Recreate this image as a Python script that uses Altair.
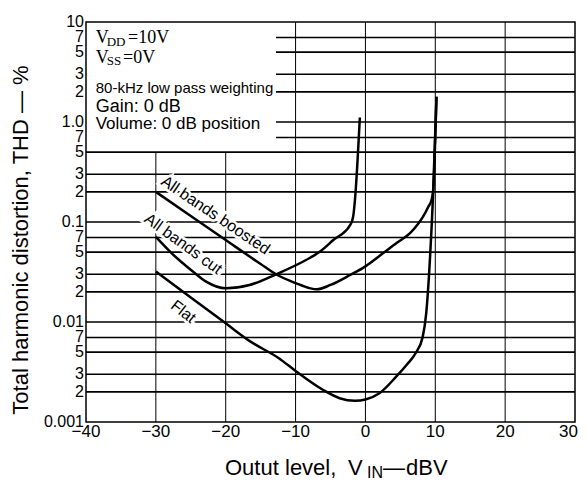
import altair as alt
import pandas as pd

# ---------------- data ----------------
boost_x = [-30, -25, -20, -15, -12.8, -10, -8, -7, -5, -2.2, 0, 2.5, 4.5, 6.35, 7.5, 8.25, 9.0, 9.5, 9.7, 10.17]
boost_y = [0.20, 0.115, 0.066, 0.038, 0.030, 0.0245, 0.0218, 0.0212, 0.0235, 0.0295, 0.036, 0.0486, 0.062,
           0.077, 0.095, 0.113, 0.142, 0.17, 0.21, 1.79]

cut_x = [-30, -27.5, -24.7, -22.8, -20, -16.6, -12.8, -8.5, -6.6, -4.6, -2.2, -1.76, -1.5, -0.8]
cut_y = [0.071, 0.047, 0.032, 0.0253, 0.0217, 0.0234, 0.030, 0.0417, 0.050, 0.066, 0.093, 0.113, 0.166, 1.11]

flat_x = [-30, -25, -20, -16.5, -12.3, -9.9, -6.1, -3.7, -1.5, 0, 2, 4.4, 6, 7.2, 8.2, 8.7, 9.2, 9.7, 10.17]
flat_y = [0.032, 0.0176, 0.0097, 0.0064, 0.0043, 0.0032, 0.0021, 0.00173, 0.00163, 0.00168, 0.00194, 0.00284,
          0.0038, 0.0049, 0.0071, 0.0122, 0.0386, 0.2, 1.79]

series_names = ["All bands boosted", "All bands cut", "Flat"]

y_tick_vals = [10, 7, 5, 3, 2, 1, 0.7, 0.5, 0.3, 0.2, 0.1, 0.07, 0.05, 0.03, 0.02, 0.01,
               0.007, 0.005, 0.003, 0.002, 0.001]
y_tick_text = ["10", "7", "5", "3", "2", "1.0", "7", "5", "3", "2", "0.1", "7", "5", "3", "2", "0.01",
               "7", "5", "3", "2", "0.001"]
x_tick_vals = [-40, -30, -20, -10, 0, 10, 20]
x_tick_text = ["\u221240", "\u221230", "\u221220", "\u221210", "0", "10", "20"]
x_last_val = 30
x_last_text = "30"

# grid lines (horizontal ones at/above 0.7 start right of the condition box)
hgrid_vals = [0.002, 0.003, 0.005, 0.007, 0.01, 0.02, 0.03, 0.05, 0.07, 0.1, 0.2, 0.3, 0.5,
              0.7, 1, 2, 3, 5, 7]
hgrid_start = [-40] * 13 + [-12.8] * 6
vgrid_vals = [-30, -20, -10, 0, 10, 20]
vgrid_top = [0.5, 0.5, 10, 10, 10, 10]

# curve label anchors (data space)
label_x = [-21.47, -26.08, -26.08]
label_y = [0.117, 0.0603, 0.01268]

# ---------------- build tables ----------------
rows = []
for name, xs, ys in zip(series_names, [boost_x, cut_x, flat_x], [boost_y, cut_y, flat_y]):
    for i, (a, b) in enumerate(zip(xs, ys)):
        rows.append({"series": name, "i": i, "x": a, "y": b})
curves = pd.DataFrame(rows)

hgrid = pd.DataFrame({"v": hgrid_vals, "x0": hgrid_start, "x1": [30] * len(hgrid_vals)})
vgrid = pd.DataFrame({"v": vgrid_vals, "y0": [0.001] * len(vgrid_vals), "y1": vgrid_top})
yt = pd.DataFrame({"v": y_tick_vals, "t": y_tick_text})
xt = pd.DataFrame({"v": x_tick_vals, "t": x_tick_text})
xt_last = pd.DataFrame({"v": [x_last_val], "t": [x_last_text]})
labels = pd.DataFrame({"t": series_names, "x": label_x, "y": label_y,
                       "a": [34, 36, 38]})

XS = alt.Scale(domain=[-40, 30], nice=False, zero=False)
YS = alt.Scale(type="log", domain=[0.001, 10], nice=False)
SANS = "Liberation Sans"
SERIF = "Liberation Serif"

hgrid_layer = alt.Chart(hgrid).mark_rule(color="black", strokeWidth=1.6).encode(
    x=alt.X("x0:Q", scale=XS, axis=None), x2="x1:Q",
    y=alt.Y("v:Q", scale=YS, axis=None))
vgrid_layer = alt.Chart(vgrid).mark_rule(color="black", strokeWidth=1).encode(
    x=alt.X("v:Q", scale=XS, axis=None),
    y=alt.Y("y0:Q", scale=YS, axis=None), y2="y1:Q")

lab_base = alt.Chart(labels).encode(
    x=alt.X("x:Q", scale=XS, axis=None),
    y=alt.Y("y:Q", scale=YS, axis=None),
    text="t:N", angle=alt.Angle("a:Q", scale=None))
lab_halo = lab_base.mark_text(font=SANS, fontSize=16, align="center", baseline="middle",
                              color="white", stroke="white", strokeWidth=5)
lab_text = lab_base.mark_text(font=SANS, fontSize=16, align="center", baseline="middle", color="black")

curve_layer = alt.Chart(curves).mark_line(color="black", strokeWidth=2.5, interpolate="monotone").encode(
    x=alt.X("x:Q", scale=XS, axis=None),
    y=alt.Y("y:Q", scale=YS, axis=None),
    detail="series:N", order="i:Q")

ytick_layer = alt.Chart(yt).mark_text(font=SANS, fontSize=16, align="right", baseline="middle",
                                      color="black").encode(
    x=alt.value(-2), y=alt.Y("v:Q", scale=YS, axis=None), text="t:N")
xtick_layer = alt.Chart(xt).mark_text(font=SANS, fontSize=17, align="center", baseline="top",
                                      color="black").encode(
    x=alt.X("v:Q", scale=XS, axis=None), y=alt.value(402), text="t:N")
xtick_last = alt.Chart(xt_last).mark_text(font=SANS, fontSize=17, align="right", baseline="top",
                                          color="black", dx=3).encode(
    x=alt.X("v:Q", scale=XS, axis=None), y=alt.value(402), text="t:N")


def note(text, px, py, size, font=SANS, align="left", baseline="alphabetic", angle=0):
    return alt.Chart(alt.Data(values=[{}])).mark_text(
        text=text, font=font, fontSize=size, align=align, baseline=baseline,
        angle=angle, color="black").encode(x=alt.value(px), y=alt.value(py))


notes = [
    note("V", 9.7, 21.3, 18, SERIF),
    note("DD", 20.7, 23.5, 13, SERIF),
    note("=10V", 42, 21.3, 18, SERIF),
    note("V", 9.7, 41.3, 18, SERIF),
    note("SS", 20.7, 43.0, 13, SERIF),
    note("=0V", 37, 41.3, 18, SERIF),
    note("80-kHz low pass weighting", 9.7, 71.3, 15),
    note("Gain: 0 dB", 9.7, 89.7, 18),
    note("Volume: 0 dB position", 9.7, 107.3, 17),
    note("Total harmonic distortion, THD — %", -65, 218, 22, align="center", baseline="middle", angle=270),
    note("Outut", 139, 453, 22),
    note("level,", 199, 453, 22),
    note("V", 262, 453, 22),
    note("IN", 281, 456, 16),
    note("—", 297, 453, 22),
    note("dBV", 320, 453, 22),
]

chart = alt.layer(hgrid_layer, vgrid_layer, lab_halo, curve_layer, lab_text,
                  ytick_layer, xtick_layer, xtick_last, *notes).properties(
    width=489, height=400,
    autosize=alt.AutoSizeParams(type="none"),
    padding={"left": 78, "top": 14, "right": 4, "bottom": 58},
    background="white",
).configure_view(stroke="black", strokeWidth=1.5)

chart.save("out.html", embed_options={"renderer": "svg", "actions": False})
